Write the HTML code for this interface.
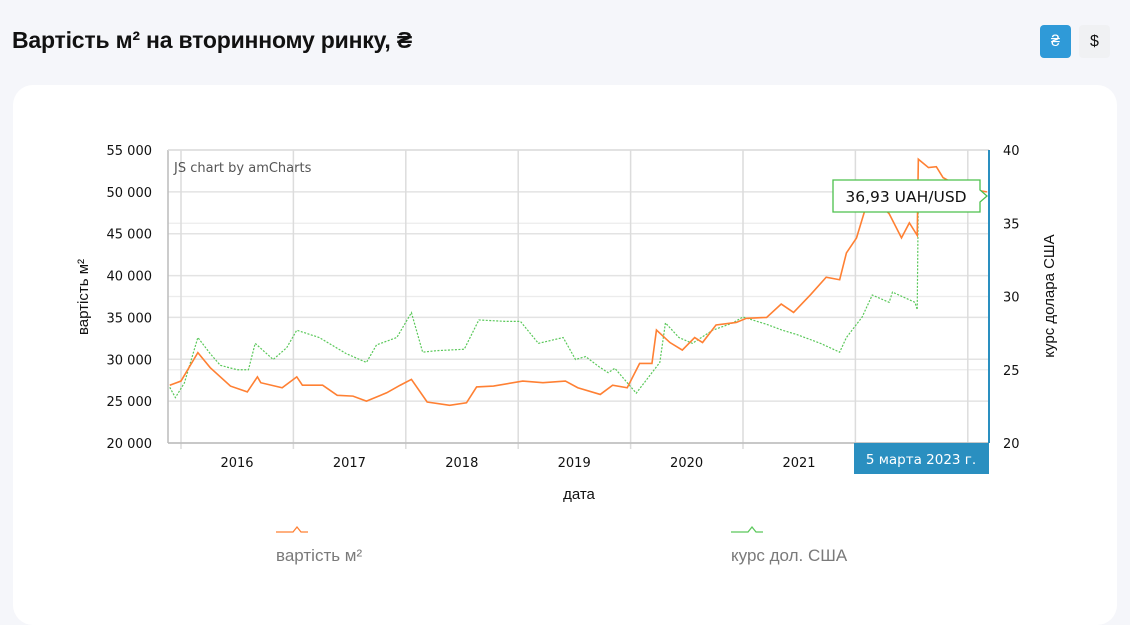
<!DOCTYPE html>
<html><head><meta charset="utf-8"><style>
body{margin:0;width:1130px;height:594px;overflow:hidden;background:#f5f6fa;font-family:"Liberation Sans",sans-serif;position:relative}
.title{position:absolute;left:12px;top:27px;font-size:23px;font-weight:bold;color:#111;letter-spacing:-0.2px}
.btn{position:absolute;top:25px;width:31px;height:33px;border-radius:4px;font-size:16px;text-align:center;line-height:33px}
.card{position:absolute;left:13px;top:85px;width:1104px;height:540px;background:#fff;border-radius:20px}
svg{position:absolute;left:0;top:0}
</style></head><body>
<div class="title">Вартість м² на вторинному ринку, ₴</div>
<div class="btn" style="left:1040px;background:#2f9ad8;color:#fff">₴</div>
<div class="btn" style="left:1079px;background:#f0f1f3;color:#111">$</div>
<div class="card"></div>
<svg id="chart" width="1130" height="594"></svg>
<script>
// decimal-year dates and values
const priceDates=[2015.9,2016.0,2016.15,2016.26,2016.44,2016.59,2016.68,2016.71,2016.9,2017.03,2017.08,2017.26,2017.39,2017.53,2017.65,2017.83,2017.95,2018.05,2018.19,2018.39,2018.54,2018.63,2018.78,2019.04,2019.22,2019.42,2019.53,2019.73,2019.84,2019.97,2020.08,2020.19,2020.23,2020.35,2020.46,2020.57,2020.64,2020.76,2020.94,2021.03,2021.21,2021.34,2021.45,2021.6,2021.74,2021.86,2021.92,2022.01,2022.08,2022.18,2022.3,2022.41,2022.48,2022.55,2022.56,2022.65,2022.72,2022.78,2022.94,2023.17];
const priceValues=[26900,27400,30800,29000,26800,26100,27900,27200,26600,27900,26900,26900,25700,25600,25000,26000,26900,27600,24900,24500,24800,26700,26800,27400,27200,27400,26600,25800,26900,26600,29500,29500,33500,32000,31100,32600,32000,34100,34400,34900,35000,36600,35600,37700,39800,39500,42700,44500,47600,49000,47400,44500,46300,44800,53900,52900,53000,51700,50500,50000];
const rateDates=[2015.9,2015.95,2016.03,2016.15,2016.26,2016.35,2016.5,2016.6,2016.66,2016.82,2016.94,2017.03,2017.23,2017.47,2017.65,2017.74,2017.92,2018.05,2018.15,2018.27,2018.52,2018.65,2018.89,2019.02,2019.18,2019.4,2019.51,2019.6,2019.72,2019.8,2019.86,2020.05,2020.2,2020.26,2020.31,2020.43,2020.55,2020.73,2020.91,2021.0,2021.21,2021.35,2021.48,2021.69,2021.86,2021.92,2022.06,2022.15,2022.3,2022.33,2022.53,2022.55,2022.56,2022.8,2023.17];
const rateValues=[23.8,23.1,24.1,27.2,26.1,25.3,25.0,25.0,26.8,25.7,26.5,27.7,27.2,26.1,25.5,26.7,27.2,28.9,26.2,26.3,26.4,28.4,28.3,28.3,26.8,27.2,25.7,25.9,25.2,24.8,25.1,23.4,24.9,25.5,28.2,27.2,26.8,27.7,28.2,28.6,28.1,27.7,27.4,26.8,26.2,27.2,28.6,30.1,29.6,30.3,29.6,29.1,37.1,36.8,36.93];
const leftTicks=["20 000","25 000","30 000","35 000","40 000","45 000","50 000","55 000"];
const leftTickValues=[20000,25000,30000,35000,40000,45000,50000,55000];
const rightTickValues=[20,25,30,35,40];
const yearLabels=["2016","2017","2018","2019","2020","2021","2022","2023"];

const L=168,R=989,T=150,B=443;
const x=t=>181+(t-2016)*112.4;
const yL=v=>B-(v-20000)/35000*(B-T);
const yR=v=>B-(v-20)/20*(B-T);
const svg=document.getElementById('chart');
const NS='http://www.w3.org/2000/svg';
function mk(tag,at,txt){const e=document.createElementNS(NS,tag);for(const k in at)e.setAttribute(k,at[k]);if(txt!=null)e.textContent=txt;svg.appendChild(e);return e;}
const F='"DejaVu Sans",sans-serif';
const F2='"Liberation Sans",sans-serif';
leftTickValues.forEach((v,i)=>{
  const g=mk('line',{x1:L,x2:R,y1:yL(v),y2:yL(v),stroke:'#e3e3e3','stroke-width':1.5});
  
  
  const t=mk('text',{x:152,y:yL(v)+5,'text-anchor':'end','font-size':13,'font-family':F,fill:'#111'},leftTicks[i]);
  
  
});
rightTickValues.forEach(v=>{
  const g=mk('line',{x1:L,x2:R,y1:yR(v),y2:yR(v),stroke:'#ececec','stroke-width':1.2});
  
  
  const t=mk('text',{x:1003,y:yR(v)+5,'font-size':13,'font-family':F,fill:'#111'},String(v));
  
  
});
yearLabels.forEach((yl,i)=>{
  const xv=x(2016+i);
  if(xv<R){
    const g=mk('line',{x1:xv,x2:xv,y1:T,y2:B+6,stroke:'#dcdcdc','stroke-width':1.5});
    
    
  }
  if(xv+56<R-60){
    const t=mk('text',{x:xv+56,y:467,'text-anchor':'middle','font-size':13,'font-family':F,fill:'#111'},yl);
    
    
  }
});
const ax1=mk('line',{x1:L,x2:L,y1:T,y2:B,stroke:'#bbb','stroke-width':1.5});


const ax2=mk('line',{x1:L,x2:R,y1:B,y2:B,stroke:'#bbb','stroke-width':1.5});


const ax3=mk('line',{x1:L,x2:R,y1:T,y2:T,stroke:'#ddd','stroke-width':1.5});


const credit=mk('text',{x:174,y:172,'font-size':13,'font-family':F,fill:'#555'},'JS chart by amCharts');


function pts(ds,vs,fy){return ds.map((d,i)=>x(d)+','+fy(vs[i])).join(' ');}
const rl=mk('polyline',{points:pts(rateDates,rateValues,yR),fill:'none',stroke:'#5ac85a','stroke-width':1.2,'stroke-dasharray':'2,1.5'});


const pl=mk('polyline',{points:pts(priceDates,priceValues,yL),fill:'none',stroke:'#ff8033','stroke-width':1.6});


const cur=mk('line',{x1:R,x2:R,y1:T,y2:B,stroke:'#2a8fc0','stroke-width':2});


const db=mk('rect',{x:854,y:443,width:135,height:31,fill:'#2a8fc0'});


const dt=mk('text',{x:921,y:464,'text-anchor':'middle','font-size':13.5,'font-family':F,fill:'#fff'},'5 марта 2023 г.');


const tb=mk('path',{d:'M833,180 H980 V190 L987,196 L980,202 V212 H833 Z',fill:'#fff',stroke:'#4cc04c','stroke-width':1.3});


const tt=mk('text',{x:906,y:202,'text-anchor':'middle','font-size':15.5,'font-family':F,fill:'#111'},'36,93 UAH/USD');


const yt=mk('text',{x:0,y:0,transform:'translate(88,297) rotate(-90)','text-anchor':'middle','font-size':15,'font-family':F2,fill:'#111'},'вартість м²');


const rt=mk('text',{x:0,y:0,transform:'translate(1054,296) rotate(-90)','text-anchor':'middle','font-size':15,'font-family':F2,fill:'#111'},'курс долара США');


const xt=mk('text',{x:579,y:499,'text-anchor':'middle','font-size':15,'font-family':F2,fill:'#111'},'дата');


[[276,'#ff8033','вартість м²','legend-price'],[731,'#5ac85a','курс дол. США','legend-usd-rate']].forEach(l=>{
  const m=mk('polyline',{points:`${l[0]},532 ${l[0]+17},532 ${l[0]+21},527 ${l[0]+25},532 ${l[0]+32},532`,fill:'none',stroke:l[1],'stroke-width':1.3});
  
  
  const t=mk('text',{x:l[0],y:561,'font-size':17,'font-family':F2,fill:'#7a7a7a'},l[2]);
  
  
});
</script>
</body></html>
